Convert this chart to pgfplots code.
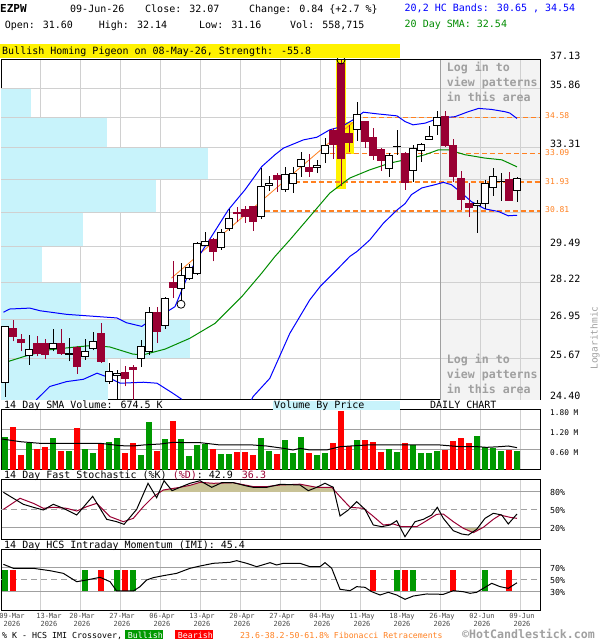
\documentclass[border=0pt]{standalone}
\usepackage{fontspec}
\setmainfont{DejaVu Sans Mono}
\setsansfont{DejaVu Sans Mono}
\setmonofont{DejaVu Sans Mono}
\usepackage{pgfplots}
\usepackage{pgfplotstable}
\pgfplotsset{compat=1.18}
\newcommand\fs[1]{\fontsize{#1bp}{#1bp}\selectfont}
\definecolor{bear}{RGB}{153,0,51}
\definecolor{vgreen}{RGB}{0,153,0}
\definecolor{vred}{RGB}{255,0,0}
\definecolor{gridc}{RGB}{208,208,208}
\definecolor{grid2}{RGB}{160,160,160}
\definecolor{vbp}{RGB}{200,243,251}
\definecolor{shade}{RGB}{243,243,243}
\definecolor{fib}{RGB}{255,128,32}
\definecolor{smag}{RGB}{0,140,0}
\definecolor{khaki}{RGB}{200,194,150}
\definecolor{logtxt}{RGB}{160,160,160}
\definecolor{dgray}{RGB}{70,70,70}

\pgfplotstableread{
i o h l c
0 24.93 26.74 24.50 26.71
1 26.64 26.93 26.23 26.39
2 26.28 26.48 25.91 26.19
3 25.78 26.44 25.48 25.98
4 26.17 26.41 25.75 25.85
5 26.15 26.30 25.66 25.80
6 26.00 26.63 25.91 26.17
7 26.17 26.63 25.80 25.83
8 25.82 26.33 25.59 25.83
9 26.02 26.09 25.20 25.43
10 25.75 26.30 25.64 25.92
11 26.00 26.55 25.94 26.23
12 26.48 26.84 25.55 25.59
13 24.96 25.55 24.89 25.27
14 25.15 25.33 24.40 25.22
15 25.25 25.45 24.81 25.04
16 25.41 25.48 24.40 25.35
17 25.67 26.28 25.41 26.05
18 25.91 27.36 25.80 27.19
19 27.19 27.38 26.19 26.55
20 26.74 27.70 26.63 27.67
21 28.21 28.95 27.67 28.04
22 28.01 28.89 27.61 28.45
23 28.34 28.87 28.28 28.72
24 28.51 29.66 28.47 29.61
25 29.51 30.02 29.49 29.67
26 29.76 29.79 28.95 29.31
27 29.46 30.13 29.37 30.02
28 30.16 30.88 30.07 30.54
29 30.74 30.96 30.38 30.71
30 30.88 31.01 30.37 30.60
31 30.97 30.98 30.07 30.41
32 30.60 32.49 30.50 31.74
33 31.79 32.19 31.59 31.89
34 32.18 32.31 31.56 32.05
35 31.63 32.53 31.56 32.25
36 31.86 32.53 31.52 32.29
37 32.55 33.15 32.15 32.82
38 32.51 33.05 32.15 32.35
39 32.53 32.82 32.29 32.61
40 33.09 33.71 32.69 33.42
41 34.03 34.13 32.87 33.44
42 36.98 37.13 31.76 32.86
43 33.89 34.27 33.12 33.53
44 34.06 35.27 33.61 34.70
45 34.41 34.45 33.30 33.57
46 33.75 34.13 32.82 33.00
47 33.26 33.30 32.39 32.79
48 32.45 33.09 32.15 33.00
49 33.35 34.06 33.03 33.37
50 33.09 33.12 31.63 31.91
51 32.39 33.44 31.95 33.30
52 33.20 33.53 32.75 33.46
53 33.67 34.23 33.66 33.78
54 34.24 34.87 33.85 34.60
55 34.62 34.87 33.34 33.39
56 33.39 33.68 31.95 32.15
57 32.09 32.38 30.86 31.27
58 31.09 31.89 30.59 30.94
59 31.01 31.24 30.00 31.09
60 31.08 32.02 30.88 31.86
61 31.70 32.49 31.40 32.15
62 31.96 32.29 31.21 31.97
63 32.02 32.33 31.20 31.21
64 31.60 32.14 31.16 32.07
}\ohlc

\pgfplotsset{panel/.style={scale only axis, width=539bp, xmin=-0.5, xmax=66.875,
  anchor=south west, axis line style={line width=1bp, black},
  xtick={4.375,9.375,...,64.375}, xticklabels={}, yticklabels={},
  major tick length=0pt, tick style={draw=none},
  xmajorgrids=true, x grid style={gridc, line width=1bp}}}

\begin{document}
\begin{tikzpicture}
\path[use as bounding box] (0,0) rectangle (600bp,640bp);

% ---------------- main price panel ----------------
\begin{axis}[panel, at={(1bp,240bp)}, height=340bp, ymode=log, ymin=24.40, ymax=37.13,
  ytick={24.40,25.67,26.95,28.22,29.49,30.76,32.04,33.31,34.58,35.86,37.13},
  ymajorgrids=true, y grid style={gridc, line width=1bp}]
\addplot[fill=shade, draw=none, forget plot] coordinates {(54.375,24.40) (66.875,24.40) (66.875,37.13) (54.375,37.13)} --cycle;
\addplot[fill=vbp, draw=none] coordinates {(-0.5,24.40) (12.875,24.40) (12.875,25.67) (-0.5,25.67)} --cycle;
\addplot[fill=vbp, draw=none] coordinates {(-0.5,25.67) (23.125,25.67) (23.125,26.95) (-0.5,26.95)} --cycle;
\addplot[fill=vbp, draw=none] coordinates {(-0.5,26.95) (9.5,26.95) (9.5,28.22) (-0.5,28.22)} --cycle;
\addplot[fill=vbp, draw=none] coordinates {(-0.5,28.22) (4.625,28.22) (4.625,29.49) (-0.5,29.49)} --cycle;
\addplot[fill=vbp, draw=none] coordinates {(-0.5,29.49) (9.75,29.49) (9.75,30.76) (-0.5,30.76)} --cycle;
\addplot[fill=vbp, draw=none] coordinates {(-0.5,30.76) (18.875,30.76) (18.875,32.04) (-0.5,32.04)} --cycle;
\addplot[fill=vbp, draw=none] coordinates {(-0.5,32.04) (25.375,32.04) (25.375,33.31) (-0.5,33.31)} --cycle;
\addplot[fill=vbp, draw=none] coordinates {(-0.5,33.31) (12.75,33.31) (12.75,34.58) (-0.5,34.58)} --cycle;
\addplot[fill=vbp, draw=none] coordinates {(-0.5,34.58) (3.25,34.58) (3.25,35.86) (-0.5,35.86)} --cycle;
\pgfplotsinvokeforeach{25.67,26.95,28.22,29.49,30.76,32.04,33.31,34.58,35.86}{
  \addplot[gridc, line width=1bp] coordinates {(-0.5,#1) (66.875,#1)};}
\pgfplotsinvokeforeach{59.375,64.375}{
  \addplot[gridc, line width=1bp] coordinates {(#1,24.40) (#1,37.13)};}
\addplot[grid2, line width=1bp] coordinates {(54.375,24.40) (54.375,37.13)};
\addplot[fill=yellow, draw=none] coordinates {(41.34,31.66) (42.63,31.66) (42.63,37.13) (41.34,37.13)} --cycle;
\addplot[fill=yellow, draw=none] coordinates {(42.63,33.05) (43.63,33.05) (43.63,34.41) (42.63,34.41)} --cycle;
\addplot[fib, line width=1.3bp, dash pattern=on 5bp off 3bp] coordinates {(31.5,30.81) (66.875,30.81)};
\addplot[fib, line width=1.3bp, dash pattern=on 5bp off 3bp] coordinates {(35.2,31.93) (66.875,31.93)};
\addplot[fib, line width=1.3bp, dash pattern=on 5bp off 3bp] coordinates {(39.6,33.09) (66.875,33.09)};
\addplot[fib, line width=1.3bp, dash pattern=on 5bp off 3bp] coordinates {(43.75,34.58) (66.875,34.58)};
\addplot[fib, line width=0.8bp] coordinates {(20.8,28.36) (43.75,34.45)};
\addplot[blue, line width=1bp] coordinates {(-0.2,27.19) (0.6,27.30) (3.1,27.33) (4.4,27.24) (7.7,27.12) (11.9,27.04) (14.0,27.00) (15.2,26.84) (17.1,26.72) (17.9,26.87) (19.6,27.10) (21.25,27.38) (22.9,28.48) (24.2,29.13) (25.8,29.85) (27.9,30.85) (30.0,31.63) (32.1,32.55) (33.75,33.03) (34.8,33.30) (37.3,33.64) (39.0,33.75) (40.6,34.06) (42.1,34.20) (43.5,34.48) (44.8,34.81) (46.5,34.74) (49.0,34.65) (50.0,34.41) (51.0,34.27) (52.5,34.34) (54.2,34.55) (56.25,34.62) (57.9,34.83) (59.2,34.97) (60.8,34.93) (62.5,34.83) (63.1,34.77) (64.0,34.54)};
\addplot[blue, line width=1bp] coordinates {(3.9,24.40) (5.6,24.81) (7.7,24.96) (9.8,25.03) (11.5,25.22) (12.7,25.11) (14.4,24.91) (17.3,24.94) (19.0,24.91) (21.0,24.60) (22.1,24.42)};
\addplot[blue, line width=1bp] coordinates {(30.8,24.40) (31.0,24.50) (33.1,25.06) (35.6,26.49) (38.1,27.61) (39.4,28.07) (41.5,28.66) (43.1,29.13) (44.0,29.31) (45.6,29.73) (47.3,30.35) (49.0,30.85) (50.0,31.09) (50.8,31.44) (52.1,31.70) (53.75,31.83) (54.8,31.92) (55.8,31.83) (57.1,31.50) (58.3,31.17) (60.0,30.89) (61.7,30.79) (62.9,30.63) (64.0,30.65)};
\addplot[smag, line width=1bp] coordinates {(-0.2,25.54) (2.7,25.77) (5.6,25.96) (8.5,26.04) (11.0,26.10) (13.1,26.05) (16.0,25.82) (17.3,25.80) (20.0,25.98) (23.1,26.33) (26.25,26.82) (29.6,27.72) (32.1,28.54) (33.75,29.13) (35.6,29.73) (38.1,30.60) (40.6,31.50) (43.1,32.09) (45.6,32.42) (48.1,32.69) (50.0,32.82) (52.5,33.03) (54.2,33.23) (55.4,33.23) (57.5,33.03) (60.0,32.89) (62.1,32.82) (64.0,32.54)};
\pgfplotsinvokeforeach{0,...,64}{%
  \pgfplotstablegetelem{#1}{o}\of\ohlc \edef\vO{\pgfplotsretval}%
  \pgfplotstablegetelem{#1}{h}\of\ohlc \edef\vH{\pgfplotsretval}%
  \pgfplotstablegetelem{#1}{l}\of\ohlc \edef\vL{\pgfplotsretval}%
  \pgfplotstablegetelem{#1}{c}\of\ohlc \edef\vC{\pgfplotsretval}%
  \pgfmathsetmacro\xa{#1-0.38}%
  \pgfmathsetmacro\xb{#1+0.38}%
  \pgfmathtruncatemacro\isbear{\vC<\vO ? 1 : 0}%
  \ifnum\isbear=1 \def\cc{bear}\def\ff{bear}\else\def\cc{black}\def\ff{white}\fi
  \edef\doit{%
    \noexpand\addplot[\cc, line width=1bp, forget plot] coordinates {(#1,\vL) (#1,\vH)};%
    \noexpand\addplot[draw=\cc, fill=\ff, line width=1bp, forget plot] coordinates {(\xa,\vO) (\xb,\vO) (\xb,\vC) (\xa,\vC)} --cycle;%
  }\doit
}
\addplot[only marks, mark=o, mark size=4bp, black, mark options={line width=0.8bp}] coordinates {(22,27.46) (42,37.13)};
\end{axis}

% ---------------- volume panel ----------------
\begin{axis}[panel, at={(1bp,170bp)}, height=60bp, ymin=0, ymax=1.8,
  ytick={0.6,1.2}, ymajorgrids=true, y grid style={grid2, line width=1bp}]
\addplot[ycomb, vgreen, line width=5.7bp] coordinates {(0,0.99) (3,0.82) (6,0.96) (8,0.57) (10,0.63) (11,0.51) (13,0.84) (14,0.96) (17,0.45) (18,1.44) (20,0.93) (22,0.93) (23,0.42) (24,0.75) (25,0.78) (27,0.48) (28,0.48) (32,0.96) (33,0.57) (35,0.90) (36,0.51) (37,0.99) (39,0.45) (40,0.51) (44,0.90) (48,0.63) (49,0.54) (51,0.75) (52,0.51) (53,0.51) (54,0.57) (59,1.02) (60,0.69) (61,0.66) (62,0.57) (64,0.56)};
\addplot[ycomb, vred, line width=5.7bp] coordinates {(1,1.29) (2,0.45) (4,0.63) (5,0.69) (7,0.57) (9,1.26) (12,0.80) (15,0.51) (16,0.80) (19,0.57) (21,1.47) (26,0.63) (29,0.54) (30,0.54) (31,0.45) (34,0.48) (38,0.51) (41,0.81) (42,1.77) (43,0.72) (45,0.90) (46,0.84) (47,0.54) (50,0.81) (55,0.60) (56,0.87) (57,0.96) (58,0.81) (63,0.60)};
\addplot[black, line width=1bp] coordinates {(-0.4,0.93) (1.9,0.85) (4.4,0.80) (9.4,0.80) (11.9,0.80) (14.4,0.73) (16.0,0.72) (17.3,0.75) (19.4,0.78) (21.0,0.83) (22.7,0.82) (24.4,0.82) (26.9,0.75) (31.0,0.75) (32.7,0.72) (34.8,0.65) (36.0,0.60) (36.9,0.65) (38.1,0.60) (40.2,0.60) (41.9,0.70) (45.2,0.75) (49.4,0.75) (54.4,0.75) (56.9,0.70) (59.0,0.70) (60.2,0.68) (61.9,0.70) (62.9,0.72) (64.0,0.67)};
\end{axis}

% ---------------- stochastic panel ----------------
\begin{axis}[panel, at={(1bp,100bp)}, height=60bp, ymin=0, ymax=100,
  ytick={20,80}, ymajorgrids=true, y grid style={grid2, line width=1bp}]
\addplot[grid2, line width=1bp, dash pattern=on 6bp off 4bp] coordinates {(-0.5,50) (66.875,50)};
\addplot[fill=khaki, draw=none] coordinates {(19.42,80) (19.79,83.3) (21.88,87.8) (23.13,91.1) (24.38,96.1) (26.04,94.5) (28.54,95.5) (31.04,88.9) (32.71,88.9) (34.38,91.7) (36.88,93) (38.96,87.8) (40.84,87.8) (41.36,80)} --cycle;
\addplot[fill=khaki, draw=none] coordinates {(57.23,20) (57.29,19.5) (58.54,12.2) (59.64,20)} --cycle;
\addplot[bear, line width=1bp] coordinates {(-0.2,51.1) (1.88,69.5) (3.54,61.1) (4.79,52.8) (6.04,54.5) (7.71,52.8) (8.96,48.3) (10.21,55.5) (11.46,61.1) (13.13,38.9) (14.79,30.5) (16.04,36.1) (17.29,55.5) (18.54,72.2) (19.79,83.3) (21.88,87.8) (23.13,91.1) (24.38,96.1) (26.04,94.5) (28.54,95.5) (31.04,88.9) (32.71,88.9) (34.38,91.7) (36.88,93) (38.96,87.8) (40.84,87.8) (41.88,72.2) (43.13,54.5) (44.79,52.8) (45.84,41.7) (47.29,25) (48.54,26.7) (49.59,22.2) (51.46,22.2) (52.71,32.2) (53.96,42.8) (54.79,43.3) (56.04,30.5) (57.29,19.5) (58.54,12.2) (59.79,21.1) (61.04,34.5) (61.88,41.7) (63.13,37.8) (64,36.1)};
\addplot[black, line width=1bp] coordinates {(-0.2,79.5) (1.04,69.5) (2.29,59.5) (3.54,54.5) (4.79,50) (6.04,59.5) (7.29,52.8) (8.96,41.7) (10.96,72.8) (12.71,34.5) (13.96,30.5) (14.88,26.1) (16.46,51.1) (17.88,94.5) (18.96,70.5) (19.88,98.8) (20.88,82.2) (21.88,87.8) (23.13,94.5) (24.38,98.8) (25.84,87.8) (27.09,95.5) (28.54,95.5) (30.21,90) (31.04,87.8) (32.71,87.8) (34.38,92.8) (36.88,91.7) (37.91,82.2) (38.96,87.8) (40,94.5) (41.04,87.8) (41.88,40) (42.91,50) (43.96,63.9) (45,51.1) (46.04,25) (47.09,22.2) (48.13,25) (48.96,32.2) (50,5.5) (51.25,30.5) (52.29,34.5) (53.34,41.7) (54.04,54.5) (54.79,36.1) (56.04,15.5) (57.09,10) (57.91,8.3) (58.96,17.8) (60,36.1) (61.04,44.5) (62.09,41.7) (62.91,26.7) (64,43.3)};
\end{axis}

% ---------------- IMI panel ----------------
\begin{axis}[panel, at={(1bp,30bp)}, height=60bp, ymin=0, ymax=100,
  ytick={30,70}, ymajorgrids=true, y grid style={grid2, line width=1bp}, unbounded coords=jump]
\addplot[grid2, line width=1bp, dash pattern=on 6bp off 4bp] coordinates {(-0.5,50) (66.875,50)};
\addplot[vgreen, line width=5.8bp] coordinates {(0,31.7) (0,66.7) (0,nan) (10,31.7) (10,66.7) (10,nan) (14,31.7) (14,66.7) (14,nan) (16,31.7) (16,66.7) (16,nan) (49,31.7) (49,66.7) (49,nan) (51,31.7) (51,66.7) (51,nan) (60,31.7) (60,66.7)};
\addplot[vred, line width=5.8bp] coordinates {(1,31.7) (1,66.7) (1,nan) (12,31.7) (12,66.7) (12,nan) (15,31.7) (15,66.7) (15,nan) (46,31.7) (46,66.7) (46,nan) (50,31.7) (50,66.7) (50,nan) (56,31.7) (56,66.7) (56,nan) (63,31.7) (63,66.7)};
\addplot[black, line width=1bp] coordinates {(-0.2,76.1) (1.04,69.5) (3.54,69.5) (5.63,65.5) (7.29,61.1) (8.96,47.2) (10.21,50) (11.88,54.5) (13.13,47.2) (13.96,31.7) (16.04,31.7) (16.88,38.9) (17.71,50) (18.54,53.9) (19.79,57.2) (21.46,61.1) (23.13,69.5) (24.38,73.3) (26.04,77.8) (28.13,79.5) (28.96,82.2) (30.21,77.8) (31.46,72.2) (33.13,78.9) (33.96,75) (34.79,77.8) (36.88,77.8) (38.13,72.2) (39.38,72.2) (40,78.9) (40.84,69.5) (41.88,34.5) (43.13,32.2) (43.96,38.9) (45,37.8) (45.84,30.5) (46.88,25) (47.91,29.5) (48.96,25) (50,17.8) (51.04,23.3) (52.71,26.7) (54.79,26.1) (56.04,32.2) (57.29,30.5) (58.13,27.8) (58.96,29.5) (59.79,36.1) (60.84,44.5) (61.88,38.9) (62.91,36.1) (64,45.4)};
\end{axis}

% ---------------- texts ----------------
\begin{scope}[x=1bp,y=-1bp,shift={(0bp,640bp)}]
\tikzset{t/.style={anchor=base west, inner sep=0pt, font=\fs{10}}}
\node[t, font=\fs{11}\bfseries] at (0,12.5) {EZPW};
\node[t] at (70,12.6) {09-Jun-26};
\node[t] at (145,12.6) {Close: 32.07};
\node[t] at (249,12.6) {Change: 0.84 \{+2.7 \%\}};
\node[t] at (4.6,28.5) {Open: 31.60};
\node[t] at (98.7,28.5) {High: 32.14};
\node[t] at (199,28.5) {Low: 31.16};
\node[t] at (290,28.5) {Vol: 558,715};
\node[t, text=blue] at (404.5,11.3) {20,2 HC Bands: 30.65 , 34.54};
\node[t, text=smag] at (404.5,27.5) {20 Day SMA: 32.54};
\fill[yellow] (0,44) rectangle (400,58.5);
\node[t] at (2,54.8) {Bullish Homing Pigeon on 08-May-26, Strength: -55.8};
\foreach \v/\yy in {37.13/60, 35.86/88.3, 33.31/147.2, 29.49/246.7, 28.22/282.3, 26.95/319.3, 25.67/358.3, 24.40/400}
  \node[t] at (550,\yy) {\v};
\foreach \v/\yy in {34.58/118.9, 33.09/155.2, 31.93/184.1, 30.81/212.1}
  \node[t, font=\fs{8}, text=fib] at (545,\yy) {\v};
\node[inner sep=0pt, font=\fs{9.5}, text=logtxt, rotate=90] at (595,338) {Logarithmic};
\foreach \yy in {71.3,363.3}{
  \node[t, font=\fs{11.6}\bfseries, text=logtxt] at (446.7,\yy) {Log in to};
  \node[t, font=\fs{11.6}\bfseries, text=logtxt] at (446.7,\yy+15) {view patterns};
  \node[t, font=\fs{11.6}\bfseries, text=logtxt] at (446.7,\yy+30) {in this area};
}
\fill[vbp] (273,401) rectangle (400,410);
\node[t] at (4,409) {14 Day SMA Volume: 674.5 K};
\node[t] at (274,409) {Volume By Price};
\node[t] at (430,409) {DAILY CHART};
\node[t] at (4,479) {14 Day Fast Stochastic (\%K) \textcolor{bear}{(\%D)}: 42.9\hspace{9bp}\textcolor{bear}{36.3}};
\node[t] at (4,549) {14 Day HCS Intraday Momentum (IMI): 45.4};
\node[t, font=\fs{7.8}] at (550,415.2) {1.80 M};
\node[t, font=\fs{7.8}] at (550,435.2) {1.20 M};
\node[t, font=\fs{7.8}] at (550,455.2) {0.60 M};
\node[t, font=\fs{8.3}] at (550,495.3) {80\%};
\node[t, font=\fs{8.3}] at (550,513.3) {50\%};
\node[t, font=\fs{8.3}] at (550,531.3) {20\%};
\node[t, font=\fs{8.3}] at (550,571.3) {70\%};
\node[t, font=\fs{8.3}] at (550,583.3) {50\%};
\node[t, font=\fs{8.3}] at (550,595.3) {30\%};
\foreach \xx/\d in {12/09-Mar, 49/13-Mar, 82/20-Mar, 122/27-Mar, 162/06-Apr, 202/13-Apr, 242/20-Apr, 282/27-Apr, 322/04-May, 362/11-May, 402/18-May, 442/26-May, 482/02-Jun, 522/09-Jun}{
  \node[anchor=base, inner sep=0pt, font=\fs{7}, text=dgray] at (\xx,618.5) {\d};
  \node[anchor=base, inner sep=0pt, font=\fs{7}, text=dgray] at (\xx,626.5) {2026};
}
\node[t, font=\fs{8.3}] at (2,638.3) {\% K - HCS IMI Crossover,};
\fill[vgreen] (125,630) rectangle (163.3,639.5);
\node[t, font=\fs{8.3}, text=white] at (127.7,638.3) {Bullish};
\fill[vred] (175,630) rectangle (213.3,639.5);
\node[t, font=\fs{8.3}, text=white] at (177.7,638.3) {Bearish};
\node[t, font=\fs{8.2}, text=fib] at (240,638.3) {23.6-38.2-50-61.8\% Fibonacci Retracements};
\node[t, font=\fs{11.6}\bfseries, text=logtxt] at (462,638.5) {©HotCandlestick.com};
\end{scope}
\end{tikzpicture}
\end{document}
